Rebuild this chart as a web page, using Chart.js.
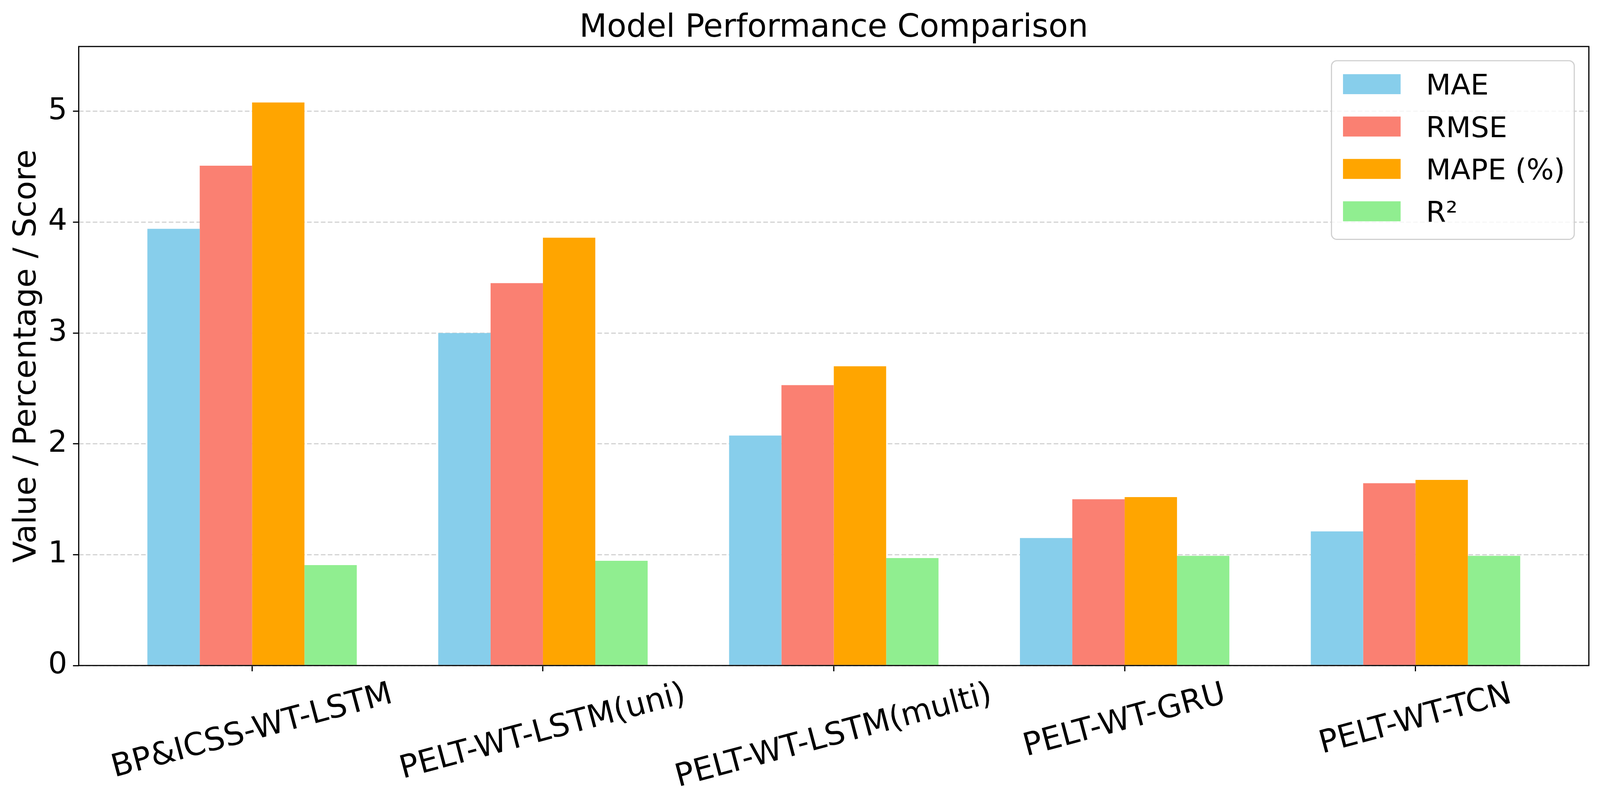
<!DOCTYPE html>
<html>
<head>
<meta charset="utf-8">
<title>Model Performance Comparison</title>
<script src="https://cdn.jsdelivr.net/npm/chart.js@4.4.1/dist/chart.umd.min.js"></script>
<style>
    html, body { margin: 0; padding: 0; background: #ffffff; overflow: hidden; }
    canvas { display: block; }
</style>
</head>
<body>
<canvas id="perfChart"></canvas>
<script>
// Chart data
const models = ["BP&ICSS-WT-LSTM", "PELT-WT-LSTM(uni)", "PELT-WT-LSTM(multi)", "PELT-WT-GRU", "PELT-WT-TCN"];
const metricNames = ["MAE", "RMSE", "MAPE (%)", "R²"];
const maeValues = [3.94, 3.00, 2.075, 1.15, 1.21];
const rmseValues = [4.51, 3.45, 2.53, 1.50, 1.645];
const mapeValues = [5.08, 3.86, 2.70, 1.52, 1.675];
const r2Values = [0.906, 0.945, 0.97, 0.99, 0.99];
const yTicks = [0, 1, 2, 3, 4, 5];

const metricColors = ["#87CEEB", "#FA8072", "#FFA500", "#90EE90"];
const FONT = "'DejaVu Sans', sans-serif";

// Layout was measured on a 4166x2065 picture; scale it to the real viewport
const W = window.innerWidth || 4166;
const H = window.innerHeight || 2065;
const sx = W / 4166;
const sy = H / 2065;
const s = Math.min(sx, sy);

const canvas = document.getElementById("perfChart");
canvas.style.width = W + "px";
canvas.style.height = H + "px";
canvas.width = W;
canvas.height = H;

// Build {x, y} points so bars sit on a linear x axis (matplotlib-like margins)
function toPoints(values) {
    return values.map((v, i) => ({ x: i, y: v }));
}

const seriesValues = [maeValues, rmseValues, mapeValues, r2Values];

// Draw title, y label, rotated x labels, axes frame and the legend
const decorPlugin = {
    id: "decor",
    afterDraw(chart) {
        const ctx = chart.ctx;
        const area = chart.chartArea;
        const xScale = chart.scales.x;

        ctx.save();
        ctx.fillStyle = "#000";

        // Title
        ctx.font = `${83 * s}px ${FONT}`;
        ctx.textAlign = "center";
        ctx.textBaseline = "alphabetic";
        ctx.fillText("Model Performance Comparison", (area.left + area.right) / 2, 94 * sy);

        // Y axis label
        ctx.save();
        ctx.translate(93 * sx, (area.top + area.bottom) / 2);
        ctx.rotate(-Math.PI / 2);
        ctx.font = `${82 * s}px ${FONT}`;
        ctx.fillText("Value / Percentage / Score", 0, 0);
        ctx.restore();

        // X tick labels, rotated 15 degrees and centred under each tick
        const angle = 15 * Math.PI / 180;
        const fs = 82 * s;
        ctx.font = `${fs}px ${FONT}`;
        ctx.textBaseline = "middle";
        ctx.textAlign = "center";
        const topY = area.bottom + 29 * s;
        models.forEach((label, i) => {
            const w = ctx.measureText(label).width;
            const h = fs * 1.16;
            const boxH = w * Math.sin(angle) + h * Math.cos(angle);
            ctx.save();
            ctx.translate(xScale.getPixelForValue(i), topY + boxH / 2);
            ctx.rotate(-angle);
            ctx.fillText(label, 0, 0);
            ctx.restore();
        });

        // Axes frame
        ctx.strokeStyle = "#000";
        ctx.lineWidth = 3 * s;
        ctx.strokeRect(area.left, area.top, area.right - area.left, area.bottom - area.top);

        // Legend (upper right, inside the axes)
        const lfs = 75 * s;
        ctx.font = `${lfs}px ${FONT}`;
        const maxText = Math.max(...metricNames.map((n) => ctx.measureText(n).width));
        const boxW = 246 * s + maxText + 24 * s;
        const boxH = 465 * s;
        const boxRight = area.right - 38 * s;
        const boxLeft = boxRight - boxW;
        const boxTop = area.top + 37 * s;

        ctx.beginPath();
        ctx.roundRect(boxLeft, boxTop, boxW, boxH, 14 * s);
        ctx.fillStyle = "rgba(255,255,255,0.8)";
        ctx.fill();
        ctx.strokeStyle = "#d0d0d0";
        ctx.lineWidth = 3 * s;
        ctx.stroke();

        ctx.textAlign = "left";
        ctx.textBaseline = "alphabetic";
        chart.data.datasets.forEach((ds, i) => {
            const patchTop = boxTop + (35 + i * 110.3) * s;
            ctx.fillStyle = ds.backgroundColor;
            ctx.fillRect(boxLeft + 30 * s, patchTop, 150 * s, 52 * s);
            ctx.fillStyle = "#000";
            ctx.fillText(ds.label, boxLeft + 246 * s, patchTop + 26 * s + lfs * 0.365);
        });

        ctx.restore();
    },
};

const chart = new Chart(canvas, {
    type: "bar",
    data: {
        datasets: metricNames.map((name, i) => ({
            label: name,
            data: toPoints(seriesValues[i]),
            backgroundColor: metricColors[i],
            borderWidth: 0,
            categoryPercentage: 0.72,
            barPercentage: 1.0,
        })),
    },
    options: {
        responsive: false,
        animation: false,
        layout: { padding: { left: 0, top: 119 * sy, right: 29 * sx, bottom: 0 } },
        plugins: {
            legend: { display: false },
            title: { display: false },
            tooltip: { enabled: false },
        },
        scales: {
            x: {
                type: "linear",
                min: -0.596,
                max: 4.596,
                offset: false,
                afterBuildTicks: (scale) => {
                    scale.ticks = models.map((m, i) => ({ value: i }));
                },
                afterFit: (scale) => {
                    scale.height = 362 * sy;
                },
                ticks: { display: false },
                grid: {
                    display: true,
                    offset: false,
                    drawOnChartArea: false,
                    drawTicks: true,
                    tickLength: 15 * s,
                    tickColor: "#000",
                    tickWidth: 3 * s,
                },
                border: { display: false },
            },
            y: {
                min: 0,
                max: 5.585,
                z: 1,
                afterBuildTicks: (scale) => {
                    scale.ticks = yTicks.map((v) => ({ value: v }));
                },
                afterFit: (scale) => {
                    scale.width = 205 * sx;
                },
                ticks: {
                    color: "#000",
                    padding: 15 * s,
                    font: { family: FONT, size: 78 * s },
                },
                grid: {
                    color: "#d3d3d3",
                    lineWidth: 3 * s,
                    drawTicks: true,
                    tickLength: 15 * s,
                    tickColor: "#000",
                    tickWidth: 3 * s,
                    tickBorderDash: [],
                },
                border: { display: false, dash: [12 * s, 6 * s] },
            },
        },
    },
    plugins: [decorPlugin],
});
</script>
</body>
</html>
